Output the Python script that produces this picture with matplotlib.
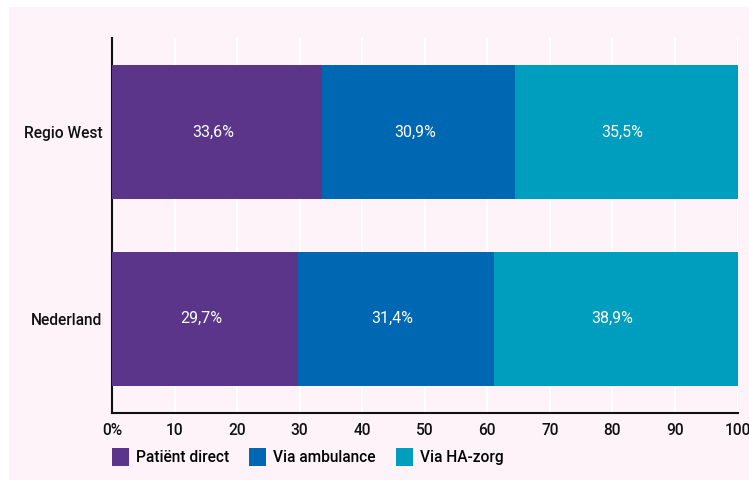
import matplotlib.pyplot as plt
from matplotlib.patches import Rectangle

plt.rcParams['font.family'] = ['Roboto', 'DejaVu Sans']

regions = ['Nederland', 'Regio West']
series = ['Patiënt direct', 'Via ambulance', 'Via HA-zorg']
patient_direct = [29.7, 33.6]
via_ambulance = [31.4, 30.9]
via_ha_zorg = [38.9, 35.5]
x_ticks = [0, 10, 20, 30, 40, 50, 60, 70, 80, 90, 100]
x_tick_labels = ['0%', '10', '20', '30', '40', '50', '60', '70', '80', '90', '100']

colors = ['#5a3589', '#0067b2', '#009ebe']
panel_color = '#fdf3f9'

fig = plt.figure(figsize=(7.49, 4.80), dpi=100)
fig.patch.set_facecolor('white')
# pink panel behind everything
fig.patches.append(Rectangle((9 / 749, 0), 1 - 9 / 749, 1 - 7 / 480,
                             transform=fig.transFigure, facecolor=panel_color,
                             edgecolor='none', zorder=-10))

ax = fig.add_axes([112 / 749, 1 - 413 / 480, (737.5 - 112) / 749, (413 - 38) / 480])
ax.set_zorder(1)
ax.set_facecolor(panel_color)

ypos = list(range(len(regions)))
left = [0] * len(regions)
for vals, col, name in zip([patient_direct, via_ambulance, via_ha_zorg], colors, series):
    bars = ax.barh(ypos, vals, left=left, height=0.72, color=col, label=name, zorder=3)
    for b, v in zip(bars, vals):
        ax.text(b.get_x() + b.get_width() / 2 - 0.6, b.get_y() + b.get_height() / 2,
                f'{v:.1f}%'.replace('.', ','), ha='center', va='center',
                color='white', fontsize=11.5, zorder=4)
    left = [l + v for l, v in zip(left, vals)]

ax.set_xlim(0, 100)
ax.set_ylim(-0.505, 1.505)
ax.set_xticks(x_ticks)
ax.set_xticklabels(x_tick_labels)
ax.set_yticks(ypos)
ax.set_yticklabels(regions)
ax.tick_params(length=0, labelsize=11.2, colors='#111111', pad=7)
for lbl in ax.get_xticklabels() + ax.get_yticklabels():
    lbl.set_fontweight('medium')

ax.grid(axis='x', color='white', linewidth=1.5, zorder=1)
ax.set_axisbelow(True)
ax.spines['right'].set_visible(False)
ax.spines['top'].set_visible(False)
ax.spines['left'].set_linewidth(1.5)
ax.spines['bottom'].set_linewidth(1.5)
ax.spines['left'].set_color('#111111')
ax.spines['bottom'].set_color('#111111')

leg = fig.legend(loc='upper left', bbox_to_anchor=(98 / 749, 1 - 434 / 480), ncol=3,
                 frameon=False, handlelength=1.08, handleheight=1.45, handletextpad=0.45,
                 columnspacing=1.3, prop={'size': 11.2, 'weight': 'medium'})

fig.savefig('out.png', dpi=100, facecolor=fig.get_facecolor())
